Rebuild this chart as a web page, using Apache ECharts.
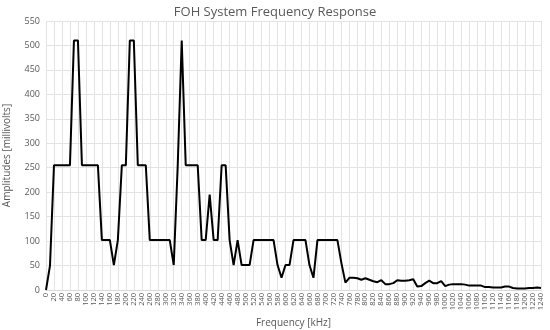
<!DOCTYPE html>
<html><head><meta charset="utf-8">
<script src="https://cdn.jsdelivr.net/npm/echarts@6/dist/echarts.min.js"></script>
<style>html,body{margin:0;padding:0;background:#fff}#c{width:550px;height:330px}</style>
</head><body><div id="c"></div>
<script>
const frequencies = [];
for (let f = 0; f <= 1240; f += 10) frequencies.push(String(f));
const amplitudes = [
  0, 50, 255, 255, 255, 255, 255, 510, 510, 255,      // 0-90
  255, 255, 255, 255, 102, 102, 102, 51, 102, 255,    // 100-190
  255, 510, 510, 255, 255, 255, 102, 102, 102, 102,   // 200-290
  102, 102, 51, 255, 510, 255, 255, 255, 255, 102,    // 300-390
  102, 195, 102, 102, 255, 255, 102, 51, 102, 51,     // 400-490
  51, 51, 102, 102, 102, 102, 102, 102, 51, 25,       // 500-590
  51, 51, 102, 102, 102, 102, 51, 25, 102, 102,       // 600-690
  102, 102, 102, 102, 55, 15, 25, 25, 24, 21,         // 700-790
  24, 21, 18, 16, 20, 12, 12, 14, 20, 19,             // 800-890
  19, 20, 22, 7, 8, 14, 19, 14, 14, 18,               // 900-990
  8, 11, 12, 12, 12, 11, 9, 9, 9, 9,                  // 1000-1090
  6, 6, 5, 5, 5, 7, 7, 4, 3, 3,                       // 1100-1190
  3, 4, 4, 5, 4                                       // 1200-1240
];
const yTicks = [0, 50, 100, 150, 200, 250, 300, 350, 400, 450, 500, 550];

const chart = echarts.init(document.getElementById('c'), null, {renderer: 'canvas'});
chart.setOption({
  animation: false,
  title: {
    text: 'FOH System Frequency Response', left: 'center', top: 1,
    textStyle: {fontFamily: 'Open Sans', fontSize: 13, fontWeight: 'normal', color: '#595959'}
  },
  grid: {left: 46, right: 9, top: 21, bottom: 40, containLabel: false, outerBoundsMode: 'none'},
  xAxis: {
    type: 'category', data: frequencies, boundaryGap: false,
    name: 'Frequency [kHz]', nameLocation: 'middle', nameGap: 28,
    nameTextStyle: {fontFamily: 'Open Sans', fontSize: 10, color: '#595959'},
    axisLine: {lineStyle: {color: '#d9d9d9'}},
    axisTick: {show: false},
    axisLabel: {interval: 1, rotate: 90, fontSize: 7.5, color: '#595959', margin: 3, fontFamily: 'Open Sans'},
    splitLine: {show: true, interval: 1, lineStyle: {color: '#e3e3e3', width: 1}}
  },
  yAxis: {
    type: 'value', min: yTicks[0], max: yTicks[yTicks.length - 1], interval: 50,
    name: 'Amplitudes [millivolts]', nameLocation: 'middle', nameGap: 34,
    nameTextStyle: {fontFamily: 'Open Sans', fontSize: 10, color: '#595959'},
    axisLine: {show: false}, axisTick: {show: false},
    axisLabel: {fontSize: 9, color: '#595959', margin: 6, fontFamily: 'Open Sans'},
    splitLine: {lineStyle: {color: '#e3e3e3', width: 1}}
  },
  series: [{
    type: 'line', data: amplitudes, symbol: 'none',
    lineStyle: {color: '#000', width: 2}
  }]
});
</script></body></html>
